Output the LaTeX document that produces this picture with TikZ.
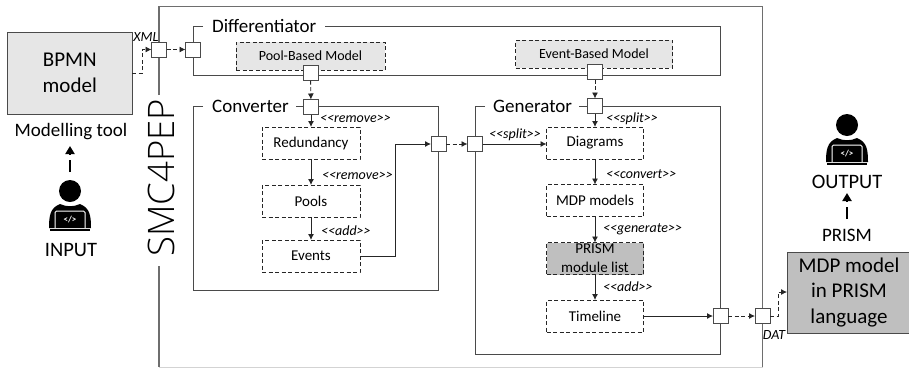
\documentclass[tikz,border=0pt]{standalone}
\usepackage{fontspec}
\setmainfont{Carlito}
\newfontfamily\lightfont[UprightFont=* Light]{Open Sans}
\usetikzlibrary{arrows.meta}
\definecolor{frameA}{HTML}{4A4A4A}
\definecolor{frameB}{HTML}{6E6E6E}
\definecolor{lightbox}{HTML}{E6E6E6}
\definecolor{darkbox}{HTML}{BFBFBF}
\tikzset{
  frameline/.style={draw=frameA,line width=1pt},
  outerline/.style={draw=frameB,line width=1.3pt},
  port/.style={draw=frameA,line width=0.9pt,fill=white,minimum size=15pt,inner sep=0pt,outer sep=0pt},
  stepbox/.style={draw=black!85,dash pattern=on 4pt off 2.5pt,line width=0.8pt,minimum width=98pt,minimum height=32pt,inner sep=0pt,outer sep=0pt,font=\fontsize{15}{17}\selectfont},
  modelbox/.style={stepbox,fill=lightbox,minimum width=149pt,minimum height=28pt,font=\fontsize{14}{16}\selectfont},
  title/.style={inner sep=0pt,anchor=west,font=\fontsize{19}{22}\selectfont},
  tag/.style={inner sep=0pt,font=\fontsize{14}{16}\selectfont\itshape},
  big/.style={draw=frameA,line width=1pt,inner sep=0pt,outer sep=0pt,align=center,font=\fontsize{21}{25.5}\selectfont},
  plain/.style={inner sep=0pt,font=\fontsize{19}{22}\selectfont},
  flow/.style={draw=black!85,line width=0.9pt,-{Latex[length=6pt,width=6pt]}},
  dflow/.style={flow,dash pattern=on 4pt off 2.5pt},
  bigflow/.style={draw=black,line width=2.4pt,dash pattern=on 12pt off 6pt,-{Triangle[length=8pt,width=9pt]}},
  pics/coder/.style={code={
    \fill[black] (0,0) circle (11);
    \fill[black] (-21,37) .. controls (-21,25) and (-20,17) .. (-10,13) .. controls (-4,16) and (4,16) .. (10,13) .. controls (20,17) and (21,25) .. (21,37) -- cycle;
    \draw[white,line width=1pt,rounded corners=1.5pt] (-15,37) -- (-15,20) -- (15,20) -- (15,37);
    \fill[black] (-20,38) rectangle (20,40);
    \node[white,inner sep=0pt,font=\fontsize{9}{10}\selectfont\bfseries] at (0,29) {</>};
  }}
}
\begin{document}
\begin{tikzpicture}[x=1pt,y=-1pt]
\useasboundingbox (0,0) rectangle (909,368);
% outer frame
\draw[outerline] (159,95) -- (159,6.5) -- (762.5,6.5) -- (762.5,368);
\draw[outerline] (159,266) -- (159,367) ;
\draw[draw=frameB!30,line width=1pt] (159,367) -- (762.5,367);
\node[rotate=90,inner sep=0pt,font=\fontsize{36.5}{38}\selectfont\lightfont] (smc) at (161,178) {SMC4PEP};
% frames
\draw[frameline] (203,26) -- (193,26) -- (193,75) -- (720,75) -- (720,26) -- (325,26);
\draw[frameline] (203,106) -- (193,106) -- (193,290) -- (438,290) -- (438,106) -- (296,106);
\draw[frameline] (485,106) -- (475,106) -- (475,354) -- (720,354) -- (720,106) -- (579,106);
\node[title] (tdiff) at (212,26) {Differentiator};
\node[title] (tconv) at (212,106) {Converter};
\node[title] (tgen) at (493,106) {Generator};
% external boxes
\node[big,fill=lightbox,minimum width=124.5pt,minimum height=82pt] (bpmn) at (69.75,73) {BPMN\\model};
\node[big,fill=darkbox,minimum width=124pt,minimum height=81pt] (mdp) at (849,292.5) {MDP model\\in PRISM\\language};
% model boxes
\node[modelbox] (pool) at (310.5,56) {Pool-Based Model};
\node[modelbox,minimum width=157pt] (event) at (594,54) {Event-Based Model};
% steps
\node[stepbox] (red) at (311,143) {Redundancy};
\node[stepbox] (pools) at (311,201) {Pools};
\node[stepbox] (events) at (311,256) {Events};
\node[stepbox,minimum width=97pt] (diag) at (595,143) {Diagrams};
\node[stepbox,minimum width=97pt] (mdpm) at (595,200.5) {MDP models};
\node[stepbox,minimum width=97pt,fill=darkbox,align=center,font=\fontsize{15}{19}\selectfont] (plist) at (595,258.5) {PRISM\\module list};
\node[stepbox,minimum width=97pt] (time) at (595,316) {Timeline};
% ports
\node[port] (p1) at (159,49.5) {};
\node[port] (p2) at (193,49.5) {};
\node[port] (p3) at (310.5,73) {};
\node[port] (p4) at (595,72) {};
\node[port] (p5) at (311,107) {};
\node[port] (p6) at (595,106) {};
\node[port] (p7) at (438.5,144) {};
\node[port] (p8) at (475,144) {};
\node[port] (p9) at (720.5,316) {};
\node[port] (p10) at (762.5,316) {};
% connectors
\coordinate (bpmnout) at (bpmn.east |- 0,73);
\draw[dflow,line width=0.8pt] (bpmnout) -- (142,73) |- (p1.west);
\draw[dflow] (p1) -- (p2);
\draw[dflow] (p3) -- (p5);
\draw[dflow] (p4) -- (p6);
\draw[flow] (p5) -- (red);
\draw[flow] (red) -- (pools);
\draw[flow] (pools) -- (events);
\coordinate (evbend) at (395,256);
\draw[flow] (events.east) -- (evbend) |- (p7.west);
\draw[dflow] (p7) -- (p8);
\draw[flow] (p8) -- (diag.west |- p8);
\draw[flow] (p6) -- (diag);
\draw[flow] (diag) -- (mdpm);
\draw[flow] (mdpm) -- (plist);
\draw[flow] (plist) -- (time);
\draw[flow] (time) -- (p9);
\draw[dflow] (p9) -- (p10);
\coordinate (mdpin) at (mdp.west |- 0,292);
\draw[dflow,line width=0.8pt] (p10.east) -- (778,316) |- (mdpin);
% tags
\node[tag] (xml) at (146,37) {XML};
\node[tag] (dat) at (774,335) {DAT};
\node[tag,anchor=west] (t1) at (320,119) {<{}<remove>{}>};
\node[tag,anchor=west] (t2) at (322,175.5) {<{}<remove>{}>};
\node[tag,anchor=west] (t3) at (321,231) {<{}<add>{}>};
\node[tag,anchor=west] (t4) at (489,135) {<{}<split>{}>};
\node[tag,anchor=west] (t5) at (606,119) {<{}<split>{}>};
\node[tag,anchor=west] (t6) at (606,174.5) {<{}<convert>{}>};
\node[tag,anchor=west] (t7) at (603,229) {<{}<generate>{}>};
\node[tag,anchor=west] (t8) at (603,287) {<{}<add>{}>};
% people
\node[plain] (tool) at (71,132) {Modelling tool};
\node[plain,font=\fontsize{20.5}{22}\selectfont] (input) at (71,250) {INPUT};
\pic at (70,191) {coder};
\coordinate (inarrow) at (70,172);
\coordinate (intip) at (70,146);
\draw[bigflow] (inarrow) -- (intip);
\pic at (847,125) {coder};
\node[plain,font=\fontsize{20.5}{22}\selectfont] (output) at (847,182) {OUTPUT};
\node[plain] (prism) at (847,235) {PRISM};
\coordinate (outarrow) at (847,219);
\coordinate (outtip) at (847,193);
\draw[bigflow] (outarrow) -- (outtip);
\end{tikzpicture}
\end{document}
